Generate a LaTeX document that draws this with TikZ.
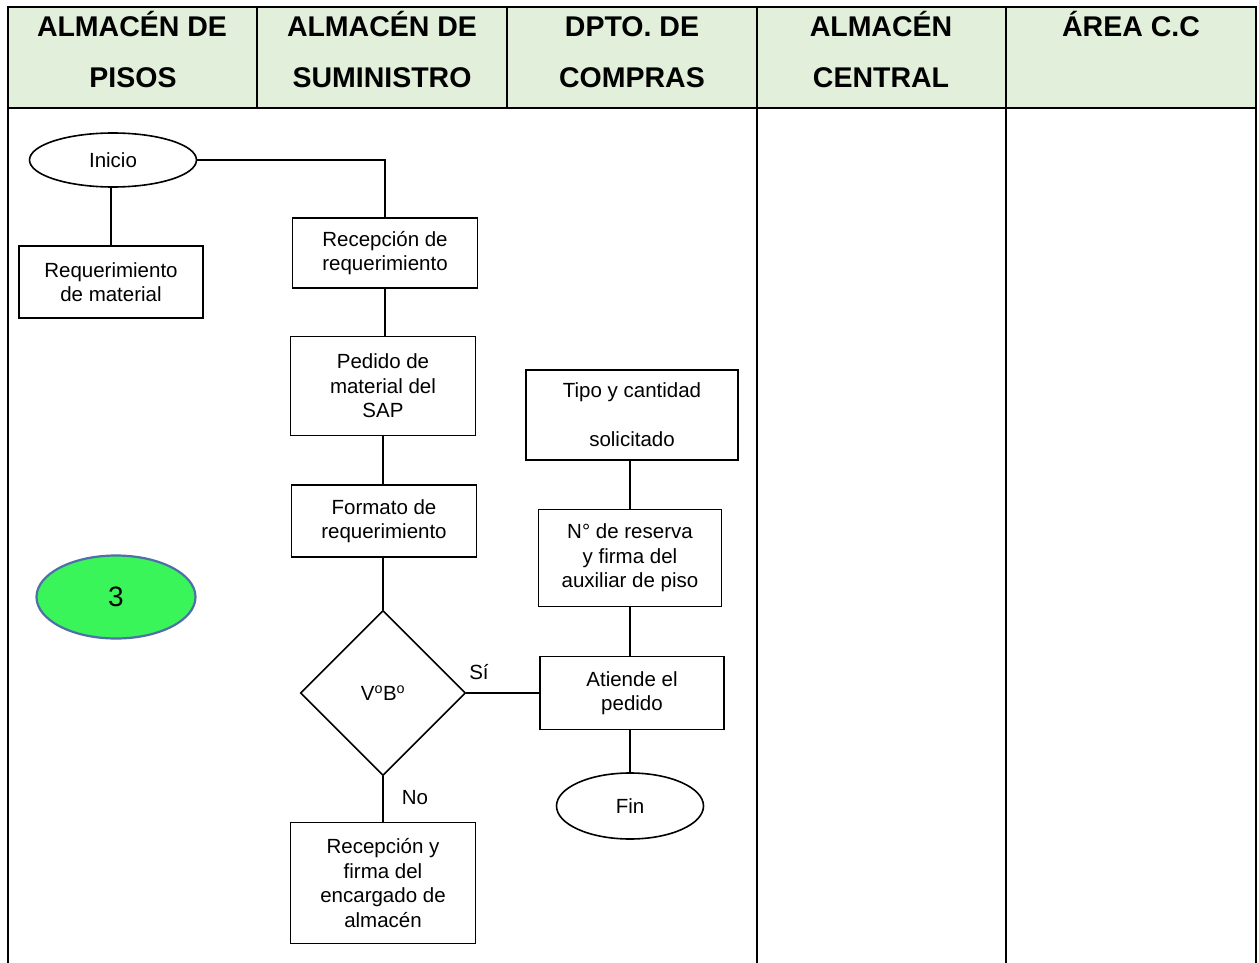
\documentclass[tikz,border=0pt]{standalone}
\usepackage{fontspec}
\setmainfont{Liberation Sans}
\usetikzlibrary{shapes.geometric}
\definecolor{hdr}{HTML}{E2EFDA}
\definecolor{grn}{HTML}{3AF55A}
\definecolor{blu}{HTML}{4F6FA8}
\begin{document}
\begin{tikzpicture}[x=1pt,y=-1pt,
  tbl/.style={line width=2.6pt, line cap=rect},
  hd/.style={anchor=base, inner sep=0pt, font=\fontsize{28.5}{30}\selectfont\bfseries},
  box/.style={draw, line width=1.6pt, align=center, inner sep=0pt, font=\fontsize{20.5}{24.5}\selectfont},
  term/.style={draw, ellipse, line width=1.6pt, inner sep=0pt, minimum width=167pt, minimum height=54pt, font=\fontsize{20.5}{24.5}\selectfont},
  lbl/.style={inner sep=0pt, font=\fontsize{20.5}{24.5}\selectfont},
  conn/.style={line width=1.4pt}
]
\useasboundingbox (0,0) rectangle (1259,963);
% header
\fill[hdr] (8,7) rectangle (1256,108);
\draw[tbl] (8,963) -- (8,7) -- (1256,7) -- (1256,963);
\draw[tbl] (8,108) -- (1256,108);
\draw[tbl] (257,7) -- (257,108);
\draw[tbl] (507,7) -- (507,108);
\draw[tbl] (757,7) -- (757,963);
\draw[tbl] (1006,7) -- (1006,963);
\node[hd] (h1a) at (132,37) {ALMACÉN DE};
\node[hd] (h1b) at (133,88) {PISOS};
\node[hd] (h2a) at (382,37) {ALMACÉN DE};
\node[hd] (h2b) at (382,88) {SUMINISTRO};
\node[hd] (h3a) at (632,37) {DPTO. DE};
\node[hd] (h3b) at (632,88) {COMPRAS};
\node[hd] (h4a) at (881,37) {ALMACÉN};
\node[hd] (h4b) at (881,88) {CENTRAL};
\node[hd] (h5a) at (1131,37) {ÁREA C.C};
% nodes
\node[term] (ini) at (113,160) {Inicio};
\node[box, minimum width=184pt, minimum height=72pt] (req) at (111,282) {Requerimiento\\de material};
\node[box, minimum width=185pt, minimum height=70pt] (rec) at (385,253) {Recepción de\\requerimiento};
\node[box, minimum width=185pt, minimum height=99pt] (ped) at (383,386) {Pedido de\\material del\\SAP};
\node[box, minimum width=185pt, minimum height=72pt] (form) at (384,521) {Formato de\\requerimiento};
\node[draw, diamond, line width=1.6pt, inner sep=0pt, minimum width=165pt, minimum height=165pt, font=\fontsize{20.5}{24.5}\selectfont] (vb) at (383,693) {V\textsuperscript{o}B\textsuperscript{o}};
\node[box, minimum width=185pt, minimum height=121pt] (recf) at (383,883) {Recepción y\\firma del\\encargado de\\almacén};
\node[box, minimum width=212pt, minimum height=90pt] (tipo) at (632,415) {Tipo y cantidad\\[24.5pt]solicitado};
\node[box, minimum width=183pt, minimum height=97pt] (nres) at (630,558) {N° de reserva\\y firma del\\auxiliar de piso};
\node[box, minimum width=184pt, minimum height=73pt] (aten) at (632,693) {Atiende el\\pedido};
\node[term, minimum width=147pt, minimum height=66pt] (fin) at (630,806) {Fin};
\node[ellipse, draw=blu, fill=grn, line width=2.2pt, inner sep=0pt, minimum width=159pt, minimum height=83pt, font=\fontsize{28}{30}\selectfont] (three) at (116,597) {3};
\node[lbl] (si) at (479,672) {Sí};
\node[lbl] (no) at (415,798) {No};
% connectors
\draw[conn] (ini.south -| req.north) -- (req.north);
\draw[conn] (ini.east) -| (rec.north);
\draw[conn] (rec.south) -- (ped.north -| rec.south);
\draw[conn] (ped.south) -- (form.north -| ped.south);
\draw[conn] (form.south -| vb.north) -- (vb.north);
\draw[conn] (vb.south) -- (recf.north -| vb.south);
\draw[conn] (vb.east) -- (aten.west);
\draw[conn] (tipo.south -| nres.north) -- (nres.north);
\draw[conn] (nres.south) -- (aten.north -| nres.south);
\draw[conn] (aten.south -| fin.north) -- (fin.north);
\end{tikzpicture}
\end{document}
